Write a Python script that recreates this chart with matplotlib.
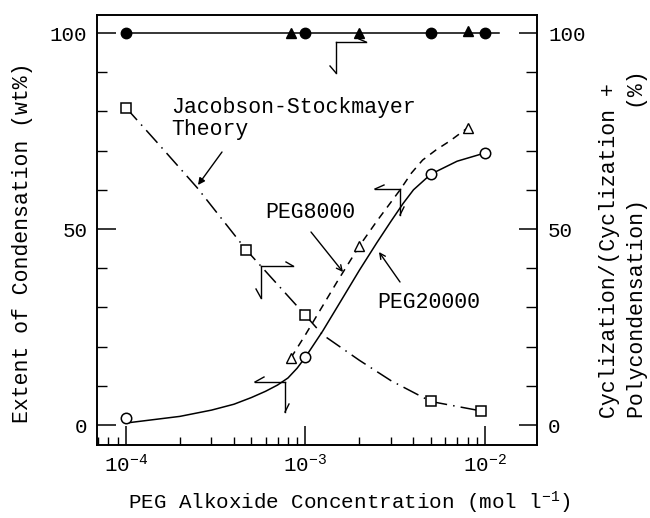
import matplotlib

matplotlib.use("Agg")

import matplotlib.pyplot as plt
from matplotlib.ticker import FixedLocator, FixedFormatter, LogLocator, MultipleLocator, NullFormatter

plt.rcParams["font.family"] = ["Liberation Mono", "DejaVu Sans Mono"]
plt.rcParams["mathtext.fontset"] = "custom"
plt.rcParams["mathtext.rm"] = "Liberation Mono"
plt.rcParams["mathtext.it"] = "Liberation Mono"
plt.rcParams["mathtext.default"] = "rm"

# --- data ---
# cyclization ratio at 100 % (right axis)
full_circle_x = [1e-4, 1e-3, 5e-3, 1e-2]
full_circle_y = [100, 100, 100, 100]
full_tri_x = [8.3e-4, 2e-3, 8e-3]
full_tri_y = [100, 100, 100.5]
top_line_x = [1e-4, 1.2e-2]
top_line_y = [100, 100]

# PEG20000 extent of condensation (left axis)
peg20k_x = [1e-4, 1e-3, 5e-3, 1e-2]
peg20k_y = [1.8, 17.3, 64, 69.4]
peg20k_curve_x = [1e-4, 2e-4, 3e-4, 4e-4, 5e-4, 6e-4, 7e-4, 8e-4, 9e-4, 1e-3,
                  1.25e-3, 1.5e-3, 2e-3, 2.5e-3, 3e-3, 3.5e-3, 4e-3, 5e-3, 7e-3, 1e-2]
peg20k_curve_y = [0.5, 2.2, 3.8, 5.3, 7.0, 8.6, 10.2, 12.0, 14.5, 17.3,
                  24, 30, 39.5, 46.5, 52, 56.5, 60, 64, 67.3, 69.4]

# PEG8000 extent of condensation (left axis)
peg8k_x = [8.3e-4, 2e-3, 8e-3]
peg8k_y = [17.1, 45.7, 75.8]
peg8k_curve_x = [8.3e-4, 1e-3, 1.5e-3, 2e-3, 2.5e-3, 3.37e-3, 3.9e-3, 4.5e-3, 5.35e-3, 6.4e-3, 8e-3]
peg8k_curve_y = [17.1, 23, 36.5, 45.7, 52, 60, 64.3, 67.6, 70.2, 72.5, 75.8]

# Jacobson-Stockmayer theory (right axis)
js_x = [1e-4, 4.7e-4, 1e-3, 5e-3, 9.5e-3]
js_y = [81, 44.6, 28, 6, 3.6]
js_curve_x = [1e-4, 1.5e-4, 2.5e-4, 4.7e-4, 1e-3, 1.25e-3, 2e-3, 3e-3, 5e-3, 9.5e-3]
js_curve_y = [81, 72, 60.5, 44.6, 28, 23, 16.5, 11.3, 6, 3.6]

xticks = [1e-4, 1e-3, 1e-2]
xtick_labels = [r"$10^{-4}$", r"$10^{-3}$", r"$10^{-2}$"]
yticks = [0, 50, 100]

FS = 15.5

fig = plt.figure(figsize=(6.5, 5.18), dpi=100)
ax = fig.add_axes([97 / 650, 73 / 518, 440 / 650, 430 / 518])
ax2 = ax.twinx()

ax.set_xscale("log")
ax.set_xlim(6.91e-5, 1.95e-2)
ax.set_ylim(-5.1, 104.6)
ax2.set_ylim(-5.1, 104.6)

lw = 1.1
ax.plot(peg20k_curve_x, peg20k_curve_y, color="black", lw=lw)
ax.plot(peg20k_x, peg20k_y, "o", ms=7.5, mfc="white", mec="black", mew=1.1)
ax.plot(peg8k_curve_x, peg8k_curve_y, color="black", lw=lw, ls=(0, (5, 4)))
ax.plot(peg8k_x, peg8k_y, "^", ms=7.5, mfc="white", mec="black", mew=1.0)

ax2.plot(js_curve_x, js_curve_y, color="black", lw=lw, ls=(0, (11, 4, 1, 4)))
ax2.plot(js_x, js_y, "s", ms=6.5, mfc="white", mec="black", mew=1.1)
ax2.plot(top_line_x, top_line_y, color="black", lw=lw)
ax2.plot(full_circle_x, full_circle_y, "o", ms=7.5, color="black")
ax2.plot(full_tri_x, full_tri_y, "^", ms=7.5, color="black")

# ticks
ax.xaxis.set_major_locator(FixedLocator(xticks))
ax.xaxis.set_major_formatter(FixedFormatter(xtick_labels))
ax.xaxis.set_minor_locator(LogLocator(base=10, subs=range(2, 10)))
ax.xaxis.set_minor_formatter(NullFormatter())
ax.yaxis.set_major_locator(FixedLocator(yticks))
ax.yaxis.set_minor_locator(MultipleLocator(10))
ax2.yaxis.set_major_locator(FixedLocator(yticks))
ax2.yaxis.set_minor_locator(MultipleLocator(10))

ax.tick_params(axis="x", which="major", direction="in", length=14, width=1.1, pad=6, labelsize=15)
ax.tick_params(axis="x", which="minor", direction="in", length=6, width=1.0)
ax.tick_params(axis="y", which="major", direction="in", length=14, width=1.1, pad=7, labelsize=15, right=False)
ax.tick_params(axis="y", which="minor", direction="in", length=7, width=1.0, right=False)
ax2.tick_params(axis="y", which="major", direction="in", length=13, width=1.1, pad=8, labelsize=15)
ax2.tick_params(axis="y", which="minor", direction="in", length=8, width=1.0)
for a in (ax, ax2):
    for s in a.spines.values():
        s.set_linewidth(1.2)


def px(x, y):
    return ((x - 97) / 440, (445 - y) / 430)


def seg(p0, p1, lw=1.0):
    (x0, y0), (x1, y1) = px(*p0), px(*p1)
    ax2.plot([x0, x1], [y0, y1], color="black", lw=lw, transform=ax.transAxes, clip_on=False)


# bent half-arrows showing which axis each set belongs to
seg((336, 42), (366, 42)); seg((359, 39), (366, 42)); seg((336, 42), (336, 73)); seg((330, 66), (336, 73))
seg((261, 266), (293, 266)); seg((286, 262), (293, 266)); seg((261, 266), (261, 298)); seg((256, 289), (261, 298))
seg((255, 382), (285, 382)); seg((255, 382), (264, 377)); seg((285, 382), (285, 412)); seg((285, 412), (289, 404))
seg((375, 189), (400, 189)); seg((375, 189), (384, 185)); seg((400, 189), (400, 215)); seg((400, 215), (404, 207))


def arrow(tail, head, style="-|>"):
    ax2.annotate("", xy=px(*head), xytext=px(*tail), xycoords="axes fraction",
                 textcoords="axes fraction",
                 arrowprops=dict(arrowstyle=style, color="black", lw=1.0, mutation_scale=10,
                                 shrinkA=0, shrinkB=0))


arrow((222, 152), (198, 185))
arrow((311, 232), (343, 272), "->")
arrow((400, 282), (379, 252), "->")

ax2.text(*px(171, 108), "Jacobson-Stockmayer", transform=ax.transAxes, fontsize=FS, va="center", ha="left")
ax2.text(*px(171, 130), "Theory", transform=ax.transAxes, fontsize=FS, va="center", ha="left")
ax2.text(*px(265, 212), "PEG8000", transform=ax.transAxes, fontsize=FS, va="center", ha="left")
ax2.text(*px(377, 302), "PEG20000", transform=ax.transAxes, fontsize=FS, va="center", ha="left")

# axis labels placed at pixel positions
fig.text(23 / 650, 1 - 243 / 518, "Extent of Condensation (wt%)", rotation=90,
         ha="center", va="center", fontsize=FS)
fig.text(610 / 650, 1 - 418 / 518, "Cyclization/(Cyclization +", rotation=90,
         ha="center", va="bottom", fontsize=FS)
fig.text(637 / 650, 1 - 418 / 518, "Polycondensation)       (%)", rotation=90,
         ha="center", va="bottom", fontsize=FS)
fig.text(349 / 650, 1 - 503 / 518, r"PEG Alkoxide Concentration (mol l$^{-1}$)",
         ha="center", va="center", fontsize=15)

fig.savefig("out.png", dpi=100)
